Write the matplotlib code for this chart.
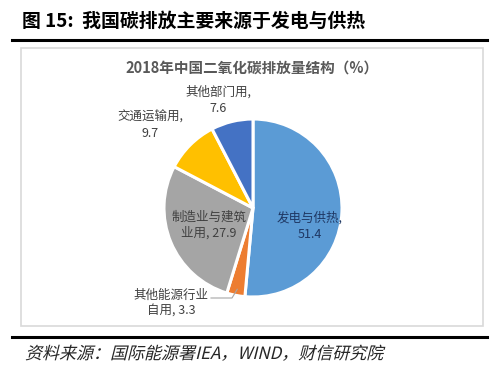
import numpy as np
import matplotlib
matplotlib.use('Agg')
import matplotlib.pyplot as plt
from matplotlib.patches import Rectangle, PathPatch
from matplotlib.lines import Line2D
from matplotlib.textpath import TextPath
from matplotlib.font_manager import FontProperties
from matplotlib.transforms import Affine2D

plt.rcParams['font.family'] = ['Noto Sans CJK SC', 'DejaVu Sans']

# data
sectors = ['发电与供热', '其他能源行业\n自用', '制造业与建筑\n业用', '交通运输用', '其他部门用']
shares = [51.4, 3.3, 27.9, 9.7, 7.6]
colors = ['#5B9BD5', '#ED7D31', '#A5A5A5', '#FFC000', '#4472C4']

W, H = 500, 376
fig = plt.figure(figsize=(5.0, 3.76), dpi=100)

def fx(px):
    return px / W

def fy(py):
    return 1 - py / H

# page title + rules
fig.text(fx(22), fy(21), '图 15:  我国碳排放主要来源于发电与供热', fontsize=13.6,
         fontweight='bold', color='black', va='center', ha='left')
fig.add_artist(Line2D([fx(12), fx(487)], [fy(40), fy(40)], color='black', lw=2.2))
fig.add_artist(Line2D([fx(12), fx(487)], [fy(337), fy(337)], color='black', lw=2.2))
fig.add_artist(Rectangle((fx(21), fy(326)), fx(483) - fx(21), fy(48) - fy(326),
                         fill=False, edgecolor='#D9D9D9', lw=1.2))

# chart title
fig.text(fx(252), fy(68), '2018年中国二氧化碳排放量结构（%）', fontsize=10.5,
         fontweight='bold', color='#595959', ha='center', va='center')

# pie
cx, cy, r = 253, 208, 89
ax = fig.add_axes([fx(cx - r), fy(cy + r), 2 * r / W, 2 * r / H])
ax.pie(shares, colors=colors, startangle=90, counterclock=False, radius=1,
       wedgeprops=dict(edgecolor='white', linewidth=2.2))
ax.set_xlim(-1, 1)
ax.set_ylim(-1, 1)
ax.axis('off')

def d(px, py):
    return ((px - cx) / r, (cy - py) / r)

lab = dict(fontsize=9, color='#404040', ha='center', va='center', linespacing=1.3)
ax.text(*d(310, 226), sectors[0] + ',\n' + str(shares[0]), **dict(lab, color='#1F3864'))
ax.text(*d(209, 225), sectors[2] + ', ' + str(shares[2]), **lab)
ax.text(*d(150, 125), sectors[3] + ',\n' + str(shares[3]), **lab)
ax.text(*d(218, 100), sectors[4] + ',\n' + str(shares[4]), **lab)
ax.text(*d(171, 303), sectors[1] + ', ' + str(shares[1]), **lab)

# leader line for the small slice
a0 = 90 - shares[0] * 3.6
amid = np.deg2rad(a0 - shares[1] * 1.8)
tip = (0.93 * np.cos(amid), 0.93 * np.sin(amid))
p1 = d(211, 298)
p2 = d(232, 298)
ax.plot([p1[0], p2[0], tip[0]], [p1[1], p2[1], tip[1]], color='#A6A6A6', lw=0.8,
        clip_on=False)

# source note, faked italic
src = '资料来源：国际能源署IEA，WIND，财信研究院'
tp = TextPath((0, 0), src, size=17, prop=FontProperties(family='Noto Sans CJK SC'))
tr = Affine2D().skew_deg(14, 0).translate(25, H - 359)
fig.add_artist(PathPatch(tp, transform=tr, facecolor='#262626', edgecolor='none'))

fig.savefig('out.png', dpi=100)
